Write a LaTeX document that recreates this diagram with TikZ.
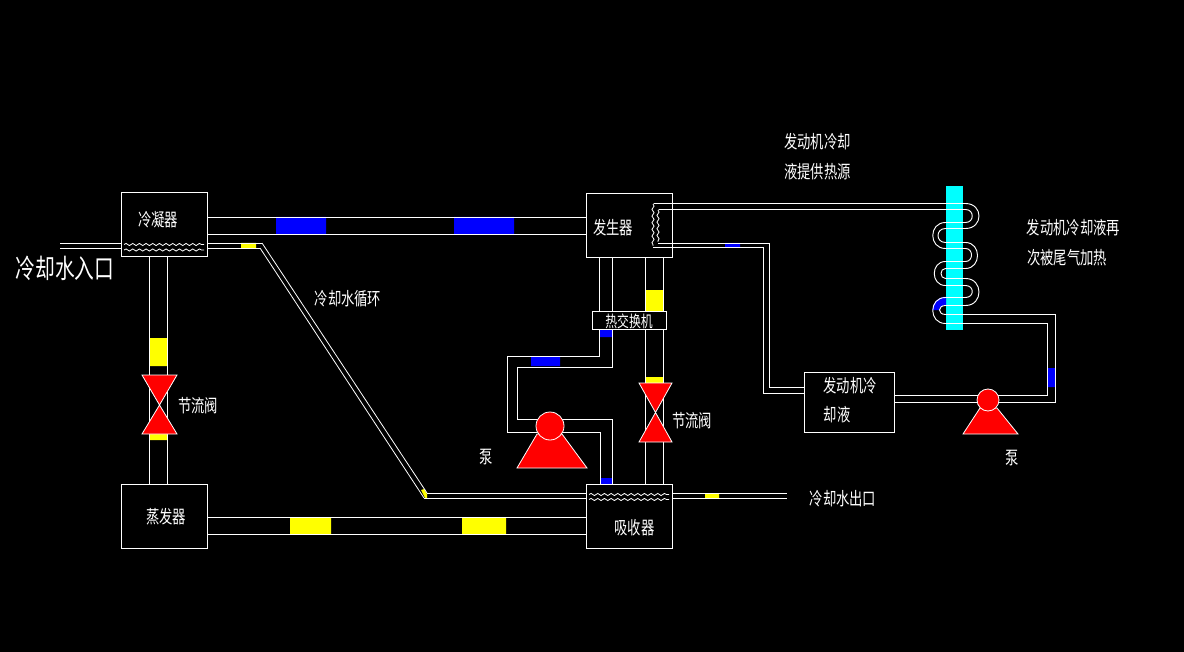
\documentclass[tikz,border=0pt]{standalone}
\usepackage{fontspec}
\newfontfamily\cjk[FakeStretch=0.74]{Noto Sans CJK SC}
\usetikzlibrary{decorations.pathmorphing}
\definecolor{pureblue}{RGB}{0,0,255}
\definecolor{pureyellow}{RGB}{255,255,0}
\definecolor{purered}{RGB}{255,0,0}
\definecolor{purecyan}{RGB}{0,255,255}
\tikzset{
  box/.style={draw=white,line width=0.7pt,fill=black,rectangle,inner sep=0pt,minimum width=64.5pt,minimum height=48pt},
  pipe/.style={draw=white,line width=0.7pt},
  thinpipe/.style={draw=white,line width=0.6pt},
  wave/.style={draw=white,line width=0.6pt,decorate,decoration={snake,amplitude=0.8pt,segment length=5pt}},
  lbl/.style={text=white,inner sep=0pt,font=\cjk\fontsize{13.5}{15}\selectfont},
  lblsmall/.style={text=white,inner sep=0pt,font=\cjk\fontsize{12}{14}\selectfont},
  lblbig/.style={text=white,inner sep=0pt,font=\cjk\fontsize{20}{22}\selectfont},
  equip/.style={fill=purered,draw=white,line width=0.6pt},
}
\begin{document}
\begin{tikzpicture}[x=0.75pt,y=-0.75pt]
\fill[black] (0,0) rectangle (1184,652);
\useasboundingbox (0,0) rectangle (1184,652);
% fluid slugs
\fill[pureblue] (276,217) rectangle (326,234) (454,217) rectangle (514,234);
\fill[pureyellow] (290,517) rectangle (331,534) (462,517) rectangle (506,534);
\fill[pureyellow] (149,338) rectangle (167,366) (149,433) rectangle (167,440);
\fill[pureyellow] (645,290) rectangle (663,311) (645,377) rectangle (663,384);
\fill[pureyellow] (241,243) rectangle (256,248) (705,493) rectangle (719,498);
\fill[pureyellow] (421,490) -- (424,489) -- (427,494) -- (427,498) -- (425,498) -- cycle;
\fill[pureblue] (600,330) rectangle (612,337) (531,357) rectangle (560,366) (600,478) rectangle (612,484);
\fill[pureblue] (725,243) rectangle (740,247) (1047,368) rectangle (1055,387);
\fill[purecyan] (946,186) rectangle (963,330);
\fill[pureblue] (946,296.7) .. controls (938,296.7) and (932.3,303) .. (932.3,310) -- (939,310) .. controls (939,307) and (942,305) .. (946,305) -- cycle;
% boxes
\node[box] (cond) at (164,224) {};
\node[box] (gen) at (629,225) {};
\node[box] (evap) at (164,516) {};
\node[box] (absb) at (629,516.5) {};
\node[box,minimum width=68pt,minimum height=45pt] (eng) at (849.5,402) {};
\coordinate (valveA) at (159.5,405);
\coordinate (valveB) at (655.5,412.5);
\coordinate (pumpA) at (550,426);
\coordinate (pumpB) at (988,400);
\coordinate (cwin) at (60,243);
\coordinate (cwinb) at (60,248);
\coordinate (cwout) at (787,493);
\coordinate (cwoutb) at (787,498);
% pipes
\draw[pipe] (cond.east |- 0,217) -- (gen.west |- 0,217) (cond.east |- 0,234) -- (gen.west |- 0,234);
\draw[pipe] (evap.east |- 0,517) -- (absb.west |- 0,517) (evap.east |- 0,534) -- (absb.west |- 0,534);
\draw[pipe] (149,256) -- (149,484) (167,256) -- (167,484);
\draw[pipe] (645,257) -- (645,484) (663,257) -- (663,484);
\draw[pipe] (599,257) -- (599,330) (612,257) -- (612,330);
\draw[pipe] (599,330) -- (599,356) -- (507,356) -- (507,432) -- (pumpA |- 0,432);
\draw[pipe] (612,330) -- (612,367) -- (517,367) -- (517,419) -- (pumpA |- 0,419);
\draw[pipe] (pumpA |- 0,419) -- (612,419) -- (612,484);
\draw[pipe] (pumpA |- 0,432) -- (600,432) -- (600,484);
% cooling water
\draw[pipe] (cwin) -- (cond.west |- cwin) (cwinb) -- (cond.west |- cwinb);
\draw[pipe] (cond.east |- cwin) -- (262,243);
\draw[pipe] (cond.east |- cwinb) -- (260,248);
\draw[thinpipe] (262,243) -- (427,493) (260,248) -- (424,498);
\draw[pipe] (427,493) -- (absb.west |- 0,493) (424,498) -- (absb.west |- 0,498);
\draw[pipe] (absb.east |- cwout) -- (cwout) (absb.east |- cwoutb) -- (cwoutb);
\draw[wave] (124,244.5) -- (204,244.5);
\draw[wave] (124,250) -- (204,250);
\draw[wave] (589,494.5) -- (669,494.5);
\draw[wave] (589,499.5) -- (669,499.5);
% generator coil and engine coolant loop
\draw[wave] (653,204) -- (653,246);
\draw[wave] (658,210) -- (658,242);
\begin{scope}[shift={(0.5,0.5)}]
\draw[pipe] (653,203)
  -- (965,203) .. controls (983,203) and (983,228) .. (965,228)
  -- (945,228) .. controls (935,228) and (935,242) .. (945,242)
  -- (965,242) .. controls (981,242) and (981,268) .. (965,268)
  -- (945,268) .. controls (939,268) and (939,278) .. (945,278)
  -- (965,278) .. controls (983,278) and (983,305) .. (965,305)
  -- (945,305) .. controls (937,305) and (937,314) .. (945,314)
  -- (1055,314) -- (1055,402) -- (pumpB |- 0,402);
\draw[pipe] (658,209)
  -- (965,209) .. controls (974,209) and (974,222) .. (965,222)
  -- (945,222) .. controls (928,222) and (928,248) .. (945,248)
  -- (965,248) .. controls (973,248) and (973,261) .. (965,261)
  -- (945,261) .. controls (930,261) and (930,285) .. (945,285)
  -- (965,285) .. controls (974,285) and (974,297) .. (965,297)
  -- (945,297) .. controls (928,297) and (928,323) .. (945,323)
  -- (1047,323) -- (1047,395) -- (pumpB |- 0,395);
\end{scope}
\draw[pipe] (658,243) -- (769,243) -- (769,387) -- (eng.west |- 0,387);
\draw[pipe] (653,247) -- (763,247) -- (763,393) -- (eng.west |- 0,393);
\draw[pipe] (eng.east |- 0,395) -- (pumpB |- 0,395);
\draw[pipe] (eng.east |- 0,402) -- (pumpB |- 0,402);
% heat exchanger
\node[box,minimum width=55.5pt,minimum height=14pt] (hx) at (629.5,320.5) {};
% valves
\draw[equip] (valveA) -- (142,375) -- (177,375) -- cycle;
\draw[equip] (valveA) -- (142,434) -- (177,434) -- cycle;
\draw[equip] (valveB) -- (639,383) -- (672,383) -- cycle;
\draw[equip] (valveB) -- (639,442) -- (672,442) -- cycle;
% pumps
\draw[equip] (517,468) -- (537,434) -- (562,434) -- (587,468) -- cycle;
\node[equip,circle,inner sep=0pt,minimum size=21pt] (pumpAc) at (pumpA) {};
\draw[equip] (963,434) -- (980,408) -- (997,408) -- (1018,434) -- cycle;
\node[equip,circle,inner sep=0pt,minimum size=16.5pt] (pumpBc) at (pumpB) {};
% labels
\node[lblbig] (t1) at (65,268) {冷却水入口};
\node[lbl] (t2) at (158,220) {冷凝器};
\node[lbl] (t3) at (613,228) {发生器};
\node[lblsmall] (t4) at (629,321) {热交换机};
\node[lbl] (t5) at (634.5,528) {吸收器};
\node[lbl] (t6) at (166,517) {蒸发器};
\node[lbl] (t7) at (198,406) {节流阀};
\node[lbl] (t8) at (692,421) {节流阀};
\node[lbl] (t9) at (486,457) {泵};
\node[lbl] (t10) at (1012,458) {泵};
\node[lbl] (t11) at (850,386) {发动机冷};
\node[lbl] (t12) at (837,415) {却液};
\node[lbl] (t13) at (817.5,142) {发动机冷却};
\node[lbl] (t14) at (817.5,172) {液提供热源};
\node[lbl] (t15) at (1073.5,228) {发动机冷却液再};
\node[lbl] (t16) at (1067,258) {次被尾气加热};
\node[lbl] (t17) at (348,299) {冷却水循环};
\node[lbl] (t18) at (843,499) {冷却水出口};
\end{tikzpicture}
\end{document}
